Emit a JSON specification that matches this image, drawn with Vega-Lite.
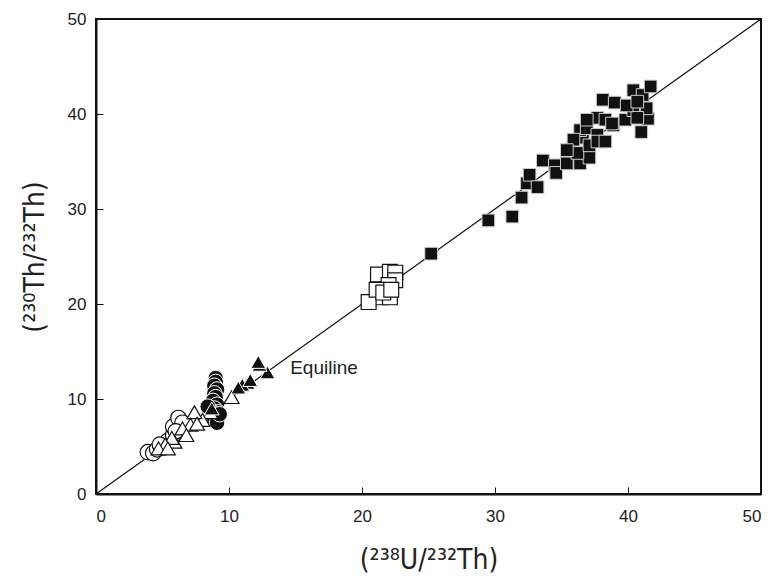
{
  "$schema": "https://vega.github.io/schema/vega-lite/v6.json",
  "width": 665,
  "height": 475,
  "autosize": "none",
  "padding": {"left": 96, "top": 19, "right": 11, "bottom": 87},
  "background": "white",
  "config": {
    "view": {"stroke": "#111", "strokeWidth": 2},
    "font": "Liberation Sans",
    "axis": {
      "domainColor": "#111", "domainWidth": 2, "grid": false,
      "tickColor": "#111", "tickWidth": 1, "tickSize": -7,
      "labelFont": "Liberation Sans", "labelFontSize": 17, "labelColor": "#222",
      "titleFont": "DejaVu Sans Condensed", "titleFontSize": 28, "titleFontWeight": "normal", "titleColor": "#222"
    }
  },
  "datasets": {
    "oc": [
      {"x": 3.9, "y": 4.4}, {"x": 4.3, "y": 4.3}, {"x": 4.6, "y": 4.7}, {"x": 5.0, "y": 4.9},
      {"x": 5.4, "y": 5.6}, {"x": 5.8, "y": 6.2}, {"x": 5.8, "y": 7.1}, {"x": 6.2, "y": 8.0},
      {"x": 6.5, "y": 7.5}, {"x": 6.0, "y": 6.6}, {"x": 4.8, "y": 5.2}
    ],
    "fc": [
      {"x": 9.0, "y": 12.2}, {"x": 9.0, "y": 11.8}, {"x": 8.9, "y": 11.4}, {"x": 9.1, "y": 11.0},
      {"x": 8.9, "y": 10.6}, {"x": 9.0, "y": 10.2}, {"x": 8.8, "y": 9.8}, {"x": 9.1, "y": 9.4},
      {"x": 8.9, "y": 9.0}, {"x": 9.2, "y": 8.6}, {"x": 9.0, "y": 8.2}, {"x": 8.9, "y": 7.8},
      {"x": 9.1, "y": 7.5}, {"x": 8.6, "y": 8.8}, {"x": 9.3, "y": 8.4}, {"x": 8.4, "y": 9.2}
    ],
    "ot": [
      {"x": 10.2, "y": 10.2}, {"x": 8.6, "y": 8.6}, {"x": 8.0, "y": 7.8}, {"x": 7.4, "y": 8.6},
      {"x": 7.1, "y": 7.3}, {"x": 6.5, "y": 6.9}, {"x": 5.9, "y": 5.5}, {"x": 5.7, "y": 5.9},
      {"x": 5.2, "y": 5.2}, {"x": 4.7, "y": 4.8}, {"x": 6.8, "y": 6.2}, {"x": 7.6, "y": 7.4},
      {"x": 5.4, "y": 4.8}
    ],
    "ft": [
      {"x": 12.9, "y": 12.8}, {"x": 12.3, "y": 13.6}, {"x": 12.2, "y": 13.9}, {"x": 11.4, "y": 11.7},
      {"x": 11.0, "y": 11.5}, {"x": 10.7, "y": 11.2}, {"x": 8.7, "y": 9.0}, {"x": 11.6, "y": 12.0}
    ],
    "os": [
      {"x": 21.2, "y": 23.1}, {"x": 22.1, "y": 23.4}, {"x": 22.5, "y": 23.3}, {"x": 22.5, "y": 22.5},
      {"x": 22.0, "y": 22.0}, {"x": 21.4, "y": 20.7}, {"x": 20.5, "y": 20.2}, {"x": 21.1, "y": 21.5},
      {"x": 22.1, "y": 20.7}, {"x": 21.6, "y": 21.2}, {"x": 22.2, "y": 21.5}
    ],
    "fs": [
      {"x": 25.2, "y": 25.3}, {"x": 29.5, "y": 28.8}, {"x": 31.3, "y": 29.2}, {"x": 32.0, "y": 31.2},
      {"x": 32.4, "y": 32.7}, {"x": 32.6, "y": 33.6}, {"x": 33.2, "y": 32.3}, {"x": 33.6, "y": 35.1},
      {"x": 34.5, "y": 34.6}, {"x": 34.6, "y": 33.8}, {"x": 35.4, "y": 34.8}, {"x": 36.4, "y": 34.8},
      {"x": 37.1, "y": 35.4}, {"x": 35.8, "y": 36.2}, {"x": 36.2, "y": 35.9}, {"x": 36.6, "y": 37.5},
      {"x": 36.4, "y": 38.3}, {"x": 36.9, "y": 38.5}, {"x": 37.7, "y": 37.8}, {"x": 37.7, "y": 39.6},
      {"x": 38.3, "y": 39.4}, {"x": 38.1, "y": 41.5}, {"x": 39.0, "y": 41.2}, {"x": 38.9, "y": 38.8},
      {"x": 39.8, "y": 39.4}, {"x": 40.4, "y": 40.4}, {"x": 40.4, "y": 42.5}, {"x": 41.1, "y": 42.0},
      {"x": 41.7, "y": 42.9}, {"x": 41.5, "y": 39.5}, {"x": 41.0, "y": 38.1}, {"x": 41.4, "y": 40.6},
      {"x": 40.7, "y": 39.6}, {"x": 39.9, "y": 40.9}, {"x": 37.1, "y": 36.7}, {"x": 37.7, "y": 37.1},
      {"x": 38.3, "y": 37.1}, {"x": 38.8, "y": 39.0}, {"x": 40.7, "y": 41.3}, {"x": 35.9, "y": 37.3},
      {"x": 35.4, "y": 36.2}, {"x": 36.9, "y": 39.4}
    ],
    "eq": [{"x": 0, "y": 0}, {"x": 50, "y": 50}],
    "lbl": [{"x": 14.6, "y": 13.3, "label": "Equiline"}]
  },
  "encoding": {
    "x": {"field": "x", "type": "quantitative",
      "scale": {"domain": [0, 50], "nice": false, "zero": false},
      "axis": {"values": [0, 10, 20, 30, 40, 50], "title": "(²³⁸U/²³²Th)", "labelPadding": 21, "titlePadding": 22}},
    "y": {"field": "y", "type": "quantitative",
      "scale": {"domain": [0, 50], "nice": false, "zero": false},
      "axis": {"values": [0, 10, 20, 30, 40, 50], "title": "(²³⁰Th/²³²Th)", "labelPadding": 17, "titlePadding": 18}}
  },
  "layer": [
    {"data": {"name": "eq"}, "mark": {"type": "line", "color": "#111", "strokeWidth": 1.2}},
    {"data": {"name": "oc"}, "mark": {"type": "point", "shape": "circle", "filled": true, "fill": "white", "stroke": "#111", "strokeWidth": 1.2, "size": 240, "opacity": 1}},
    {"data": {"name": "fc"}, "mark": {"type": "point", "shape": "circle", "filled": true, "fill": "#111", "stroke": "white", "strokeWidth": 1, "size": 240, "opacity": 1}},
    {"data": {"name": "ot"}, "mark": {"type": "point", "shape": "triangle-up", "filled": true, "fill": "white", "stroke": "#111", "strokeWidth": 1.2, "size": 220, "opacity": 1}},
    {"data": {"name": "ft"}, "mark": {"type": "point", "shape": "triangle-up", "filled": true, "fill": "#111", "stroke": "white", "strokeWidth": 1, "size": 220, "opacity": 1}},
    {"data": {"name": "os"}, "mark": {"type": "point", "shape": "square", "filled": true, "fill": "white", "stroke": "#111", "strokeWidth": 1.2, "size": 220, "opacity": 1}},
    {"data": {"name": "fs"}, "mark": {"type": "point", "shape": "square", "filled": true, "fill": "#111", "stroke": "#ccc", "strokeWidth": 1, "size": 160, "opacity": 1}},
    {"data": {"name": "lbl"}, "mark": {"type": "text", "align": "left", "baseline": "middle", "fontSize": 19, "color": "#222", "font": "Liberation Sans"},
      "encoding": {"text": {"field": "label"}}}
  ]
}
